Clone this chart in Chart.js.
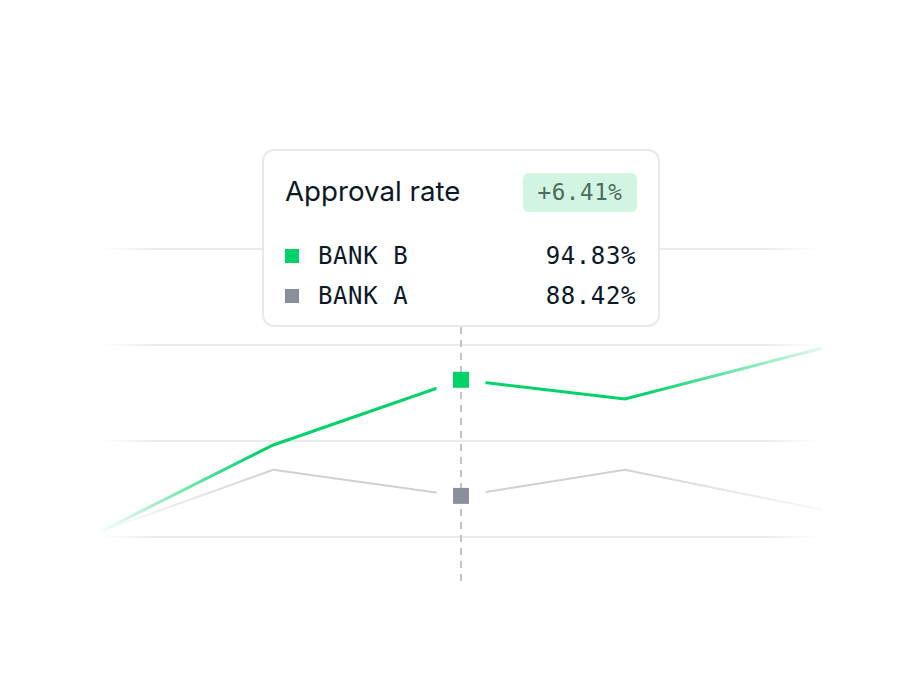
<!DOCTYPE html>
<html>
<head>
<meta charset="utf-8">
<script src="https://cdn.jsdelivr.net/npm/chart.js@4/dist/chart.umd.min.js"></script>
<style>
  html, body { margin: 0; padding: 0; background: #fff; }
  #wrap { position: relative; width: 920px; height: 690px; }
  #chart { position: absolute; left: 0; top: 0; }
  .tip {
    position: absolute; left: 262px; top: 149px; width: 398px; height: 178px;
    box-sizing: border-box; background: #fff; border: 2px solid #e8e9ec; border-radius: 12px;
  }
  .tip .title {
    position: absolute; left: 21px; top: 26px; font: 400 27.7px/28px Inter, sans-serif; color: #0c1828;
  }
  .tip .badge {
    position: absolute; left: 259px; top: 22px; width: 114px; height: 39px; border-radius: 6px;
    background: #d2f5e3; color: #4c6b5d; font: 400 22.5px/39px "DejaVu Sans Mono", monospace;
    text-align: center; letter-spacing: 0.6px;
  }
  .tip .row { position: absolute; left: 21px; right: 22px; height: 24px; font: 400 24px/24px "DejaVu Sans Mono", monospace; color: #0c1828; letter-spacing: 0.6px; }
  .tip .sw { position: absolute; left: 0; top: 5px; width: 14px; height: 14px; }
  .tip .lbl { position: absolute; left: 33px; top: 0; }
  .tip .val { position: absolute; right: 0; top: 0; }
</style>
</head>
<body>
<div id="wrap">
  <canvas id="chart" width="920" height="690"></canvas>
  <div class="tip" id="tip">
    <div class="title" id="tip-title"></div>
    <div class="badge" id="tip-badge"></div>
  </div>
</div>
<script>
/* data */
const xValues = [0, 24, 50, 72.7, 100];
const bankB = [86.43, 91.23, 94.83, 93.77, 96.57];
const bankA = [86.43, 89.86, 88.42, 89.86, 87.65];
const yTicks = [86.15, 91.45, 96.75, 102.05];
const hoverIndex = 2;
const seriesNames = ['BANK B', 'BANK A'];
const tipTitle = 'Approval rate';

const GREEN = '#00d26a';
const GREY_LINE = '#cdd0d4';
const GREY_MARK = '#8a9099';
const GRID = '#ebebec';

function rgba(hex, a) {
  const n = parseInt(hex.slice(1), 16);
  return 'rgba(' + (n >> 16) + ',' + ((n >> 8) & 255) + ',' + (n & 255) + ',' + a + ')';
}

/* horizontal fade for lines and grid */
function fade(chart, hex, stops) {
  const area = chart.chartArea;
  if (!area) return hex;
  const g = chart.ctx.createLinearGradient(area.left - 2, 0, area.right, 0);
  stops.forEach(s => g.addColorStop(s[0], rgba(hex, s[1])));
  return g;
}

function toPoints(arr) {
  return arr.map((v, i) => ({ x: xValues[i], y: v }));
}

/* dashed guide at the hovered x, and a gap in the lines around the markers */
const hoverPlugin = {
  id: 'hover',
  beforeDatasetsDraw(chart) {
    const ctx = chart.ctx;
    const x = chart.scales.x.getPixelForValue(xValues[hoverIndex]);
    const area = chart.chartArea;
    ctx.save();
    ctx.strokeStyle = '#c0c4ca';
    ctx.lineWidth = 2;
    ctx.setLineDash([7, 6]);
    ctx.beginPath();
    ctx.moveTo(x, area.top);
    ctx.lineTo(x, area.bottom + 50);
    ctx.stroke();
    ctx.restore();
  },
  beforeDatasetDraw(chart, args) {
    if (args.meta.type !== 'line') return;
    const ctx = chart.ctx;
    const x = chart.scales.x.getPixelForValue(xValues[hoverIndex]);
    ctx.save();
    ctx.beginPath();
    ctx.rect(0, 0, chart.width, chart.height);
    ctx.rect(x - 24.5, 0, 49, chart.height);
    ctx.clip('evenodd');
  },
  afterDatasetDraw(chart, args) {
    if (args.meta.type !== 'line') return;
    chart.ctx.restore();
  }
};

new Chart(document.getElementById('chart'), {
  type: 'line',
  data: {
    datasets: [
      {
        label: seriesNames[1],
        data: toPoints(bankA),
        borderColor: c => fade(c.chart, GREY_LINE, [[0, 0], [0.25, 1], [0.72, 1], [1, 0.15]]),
        borderWidth: 2,
        pointRadius: 0,
        tension: 0
      },
      {
        label: seriesNames[0],
        data: toPoints(bankB),
        borderColor: c => fade(c.chart, GREEN, [[0, 0], [0.22, 1], [0.75, 1], [1, 0.12]]),
        borderWidth: 3,
        pointRadius: 0,
        tension: 0
      },
      {
        type: 'scatter',
        data: [{ x: xValues[hoverIndex], y: bankA[hoverIndex] }],
        pointStyle: 'rect',
        pointRadius: 11.3,
        pointBorderWidth: 0,
        backgroundColor: GREY_MARK
      },
      {
        type: 'scatter',
        data: [{ x: xValues[hoverIndex], y: bankB[hoverIndex] }],
        pointStyle: 'rect',
        pointRadius: 11.3,
        pointBorderWidth: 0,
        backgroundColor: GREEN
      }
    ]
  },
  options: {
    responsive: false,
    animation: false,
    events: [],
    layout: { padding: { left: 100, right: 98, top: 249, bottom: 153 } },
    plugins: {
      legend: { display: false },
      tooltip: { enabled: false }
    },
    scales: {
      x: { type: 'linear', min: xValues[0], max: xValues[xValues.length - 1], display: false },
      y: {
        min: yTicks[0],
        max: yTicks[yTicks.length - 1],
        afterBuildTicks: s => { s.ticks = yTicks.map(v => ({ value: v })); },
        ticks: { display: false },
        border: { display: false },
        grid: {
          drawTicks: false,
          lineWidth: 2,
          color: c => fade(c.chart, GRID, [[0, 0], [0.08, 1], [0.92, 1], [1, 0]])
        }
      }
    }
  },
  plugins: [hoverPlugin]
});

/* tooltip card, filled from the arrays */
const tip = document.getElementById('tip');
document.getElementById('tip-title').textContent = tipTitle;
const diff = bankB[hoverIndex] - bankA[hoverIndex];
document.getElementById('tip-badge').textContent = (diff >= 0 ? '+' : '') + diff.toFixed(2) + '%';
[[seriesNames[0], bankB, GREEN], [seriesNames[1], bankA, GREY_MARK]].forEach((r, i) => {
  const row = document.createElement('div');
  row.className = 'row';
  row.style.top = (93 + i * 40) + 'px';
  row.innerHTML = '<span class="sw" style="background:' + r[2] + '"></span>' +
    '<span class="lbl"></span><span class="val"></span>';
  row.querySelector('.lbl').textContent = r[0];
  row.querySelector('.val').textContent = r[1][hoverIndex].toFixed(2) + '%';
  tip.appendChild(row);
});
</script>
</body>
</html>
